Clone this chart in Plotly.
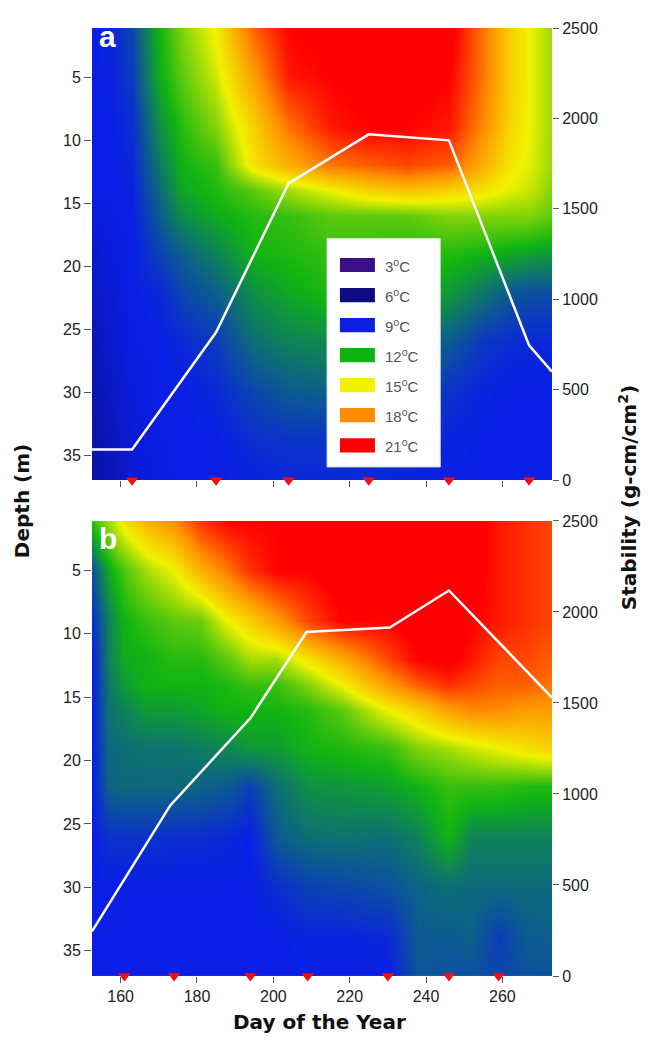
import numpy as np
import plotly.graph_objects as go

# ---------------- data ----------------
depths = [1, 5, 9, 12, 14, 16, 19, 22, 26, 30, 34, 37]

# panel a: temperature profiles (one list per day, values at `depths`)
days_a = [152.5, 158, 163, 170, 176, 185, 195, 204, 215, 225, 235, 246, 255, 262, 267, 273]
profiles_a = [
    [9.0, 9.0, 9.0, 9.0, 9.0, 8.7, 8.3, 8.0, 7.7, 7.4, 7.2, 7.1],
    [9.2, 9.1, 9.0, 9.0, 9.0, 8.9, 8.7, 8.5, 8.2, 8.0, 7.8, 7.7],
    [9.8, 9.6, 9.3, 9.2, 9.1, 9.0, 9.0, 9.0, 8.9, 8.7, 8.5, 8.4],
    [12.0, 11.8, 11.2, 10.8, 10.5, 10.2, 9.7, 9.2, 9.0, 9.0, 8.9, 8.8],
    [13.5, 13.0, 12.3, 12.0, 11.7, 11.2, 10.3, 9.8, 9.2, 9.0, 9.0, 9.0],
    [15.2, 14.5, 13.5, 12.5, 12.2, 11.8, 11.0, 10.3, 9.6, 9.2, 9.0, 9.0],
    [19.0, 17.5, 16.0, 15.5, 13.0, 12.3, 12.0, 11.3, 10.6, 9.8, 9.3, 9.1],
    [21.0, 20.5, 18.5, 17.0, 14.0, 12.5, 12.2, 11.8, 11.0, 10.2, 9.4, 9.2],
    [21.5, 21.0, 20.5, 18.5, 15.0, 13.0, 12.5, 12.2, 11.2, 10.3, 9.4, 9.2],
    [22.0, 21.5, 21.0, 19.0, 16.0, 13.0, 12.5, 12.3, 11.2, 10.2, 9.4, 9.2],
    [22.0, 21.5, 21.0, 19.5, 16.5, 13.0, 12.3, 12.0, 10.9, 9.9, 9.3, 9.1],
    [21.5, 21.0, 20.5, 19.0, 16.0, 13.5, 12.3, 11.5, 10.2, 9.4, 9.1, 9.0],
    [18.5, 18.5, 18.0, 17.0, 15.5, 13.5, 12.0, 10.8, 9.5, 9.1, 9.0, 9.0],
    [16.0, 16.0, 15.8, 15.3, 14.8, 13.5, 11.8, 10.2, 9.3, 9.0, 9.0, 9.0],
    [15.0, 15.0, 15.0, 14.8, 14.5, 13.5, 11.6, 10.0, 9.2, 9.0, 9.0, 9.0],
    [13.8, 13.8, 13.8, 13.8, 13.5, 13.0, 11.5, 10.0, 9.2, 9.0, 9.0, 9.0],
]

# panel b
days_b = [152.5, 157, 161, 167, 174, 181, 188, 194, 201, 209, 218, 230, 238, 246, 252, 259, 266, 273]
profiles_b = [
    [12.5, 10.0, 9.3, 9.0, 9.0, 9.0, 9.0, 9.0, 9.0, 9.0, 9.0, 9.0],
    [14.0, 11.8, 11.0, 11.0, 10.8, 10.7, 10.5, 10.4, 9.4, 9.0, 9.0, 9.0],
    [15.5, 12.8, 12.0, 11.8, 11.5, 11.0, 10.6, 10.5, 9.4, 9.0, 9.0, 9.0],
    [17.0, 14.0, 12.5, 12.0, 12.0, 11.5, 10.7, 10.5, 9.4, 9.0, 9.0, 9.0],
    [18.0, 15.0, 13.0, 12.3, 12.0, 11.5, 10.7, 10.5, 9.3, 9.0, 9.0, 9.0],
    [20.0, 17.0, 13.2, 12.3, 12.0, 11.7, 10.9, 10.4, 9.3, 9.0, 9.0, 9.0],
    [21.0, 18.5, 15.0, 13.0, 12.2, 12.0, 11.1, 10.2, 9.2, 9.0, 9.0, 9.0],
    [21.0, 20.0, 16.0, 14.0, 12.5, 12.0, 11.5, 9.7, 9.0, 9.0, 9.0, 9.0],
    [21.0, 21.0, 17.5, 14.0, 12.5, 12.0, 11.5, 10.6, 10.2, 9.3, 9.0, 9.0],
    [21.0, 21.0, 19.5, 15.5, 13.5, 12.3, 12.0, 11.3, 10.6, 9.7, 9.1, 9.0],
    [21.5, 21.5, 21.0, 17.0, 15.0, 13.0, 12.2, 11.4, 10.7, 9.8, 9.1, 9.0],
    [22.0, 22.0, 21.0, 19.5, 17.5, 15.0, 12.5, 11.6, 10.6, 10.0, 9.2, 9.0],
    [22.0, 22.0, 21.5, 21.0, 19.0, 16.0, 13.5, 12.0, 11.0, 10.4, 10.2, 10.1],
    [22.0, 22.0, 21.5, 21.5, 20.0, 17.5, 14.0, 12.5, 12.0, 10.6, 10.2, 10.0],
    [21.5, 21.5, 21.0, 20.5, 19.5, 18.0, 14.5, 12.5, 11.0, 10.5, 10.3, 10.0],
    [20.5, 20.5, 20.5, 19.5, 19.0, 18.0, 15.0, 12.5, 11.0, 10.5, 9.6, 9.8],
    [20.0, 20.0, 20.0, 19.5, 19.0, 17.5, 15.5, 12.3, 11.0, 10.5, 10.2, 10.0],
    [19.5, 19.5, 19.5, 19.0, 18.5, 17.5, 16.0, 12.2, 11.0, 10.5, 10.3, 10.0],
]

# stability (water column) lines
stab_days_a = [152.5, 163, 185, 204, 225, 246, 267, 273]
stab_a = [170, 170, 818, 1641, 1912, 1879, 745, 600]
stab_days_b = [152.5, 173, 194, 208.7, 230.5, 246, 273]
stab_b = [245, 937, 1417, 1890, 1914, 2118, 1530]

# sampling dates (red triangles)
samp_a = [163, 185, 204, 225, 246, 267]
samp_b = [161, 174, 194, 209, 230, 246, 259]

legend_temps = [3, 6, 9, 12, 15, 18, 21]
legend_colors = ["#3a0f8a", "#0a0c80", "#0a1ee6", "#10b412", "#f2f200", "#ff8c00", "#ff0000"]

x_ticks = [160, 180, 200, 220, 240, 260]
depth_ticks = [5, 10, 15, 20, 25, 30, 35]
stab_ticks = [0, 500, 1000, 1500, 2000, 2500]

# ---------------- figure ----------------
tmin, tmax = 3, 21
colorscale = [[(t - tmin) / (tmax - tmin), c] for t, c in zip(legend_temps, legend_colors)]

za = np.array(profiles_a).T
zb = np.array(profiles_b).T

fig = go.Figure()
for days, z, xa, ya, ya2, sd, sv, samp in [
    (days_a, za, "x", "y", "y2", stab_days_a, stab_a, samp_a),
    (days_b, zb, "x2", "y3", "y4", stab_days_b, stab_b, samp_b),
]:
    fig.add_trace(go.Heatmap(x=days, y=depths, z=z, colorscale=colorscale, zmin=tmin, zmax=tmax,
                             zsmooth="best", showscale=False, xaxis=xa, yaxis=ya, hoverinfo="skip"))
    fig.add_trace(go.Scatter(x=samp, y=[37] * len(samp), mode="markers", xaxis=xa, yaxis=ya,
                             marker=dict(symbol="triangle-down", color="#ee1111", size=11),
                             cliponaxis=False, showlegend=False))
    fig.add_trace(go.Scatter(x=sd, y=sv, mode="lines", xaxis=xa, yaxis=ya2,
                             line=dict(color="white", width=2.5), showlegend=False))

tickfont = dict(family="Liberation Sans, Arial, sans-serif", size=16, color="#222")
common_x = dict(range=[152.5, 273], tickvals=x_ticks, ticks="outside", ticklen=6, tickcolor="#555",
                showgrid=False, zeroline=False, showline=False, tickfont=tickfont)
common_y = dict(range=[37, 1.1], tickvals=depth_ticks, ticks="outside", ticklen=7, tickcolor="#555",
                showgrid=False, zeroline=False, showline=False, tickfont=tickfont)
common_y2 = dict(range=[0, 2500], tickvals=stab_ticks, ticks="outside", ticklen=6, tickcolor="#555",
                 showgrid=False, zeroline=False, showline=False, tickfont=tickfont, side="right")

fig.update_layout(
    width=642, height=1032,
    margin=dict(l=84, r=98, t=12, b=64),
    paper_bgcolor="white", plot_bgcolor="white",
    showlegend=False,
    xaxis=dict(domain=[0, 1], anchor="y", showticklabels=False, **common_x),
    yaxis=dict(domain=[0.523, 1], anchor="x", **common_y),
    yaxis2=dict(overlaying="y", anchor="x", **common_y2),
    xaxis2=dict(domain=[0, 1], anchor="y3", **common_x),
    yaxis3=dict(domain=[0, 0.480], anchor="x2", **common_y),
    yaxis4=dict(overlaying="y3", anchor="x2", **common_y2),
)

# legend box (inside panel a)
shapes = [dict(type="rect", xref="paper", yref="paper", x0=0.511, x1=0.757, y0=0.537, y1=0.778,
               fillcolor="white", line=dict(color="#dddddd", width=1), layer="above")]
annotations = []
for i, (t, c) in enumerate(zip(legend_temps, legend_colors)):
    py = 259 + 30.3 * i
    yc = (976 - py) / 956
    shapes.append(dict(type="rect", xref="paper", yref="paper", x0=0.539, x1=0.615,
                       y0=yc - 0.0075, y1=yc + 0.0075, fillcolor=c, line=dict(width=0), layer="above"))
    annotations.append(dict(xref="paper", yref="paper", x=0.632, y=yc, xanchor="left", yanchor="middle",
                            text=f"{t}<sup>o</sup>C", showarrow=False,
                            font=dict(family="Liberation Sans, Arial, sans-serif", size=15, color="#555")))

titlefont = dict(family="DejaVu Sans, sans-serif", size=20, color="#111")
annotations += [
    dict(xref="paper", yref="paper", x=-0.152, y=0.501, text="<b>Depth (m)</b>", textangle=-90,
         showarrow=False, font=titlefont, xanchor="center", yanchor="middle"),
    dict(xref="paper", yref="paper", x=1.165, y=0.505, text="<b>Stability (g-cm/cm<sup>2</sup>)</b>",
         textangle=-90, showarrow=False, font=titlefont, xanchor="center", yanchor="middle"),
    dict(xref="paper", yref="paper", x=0.495, y=-0.0485, text="<b>Day of the Year</b>",
         showarrow=False, font=titlefont, xanchor="center", yanchor="middle"),
    dict(xref="paper", yref="paper", x=0.010, y=0.991, text="<b>a</b>", showarrow=False,
         font=dict(family="Liberation Sans, Arial, sans-serif", size=30, color="white"),
         xanchor="left", yanchor="middle"),
    dict(xref="paper", yref="paper", x=0.010, y=0.461, text="<b>b</b>", showarrow=False,
         font=dict(family="Liberation Sans, Arial, sans-serif", size=30, color="white"),
         xanchor="left", yanchor="middle"),
]
fig.update_layout(shapes=shapes, annotations=annotations)

fig.write_html("out.html")
